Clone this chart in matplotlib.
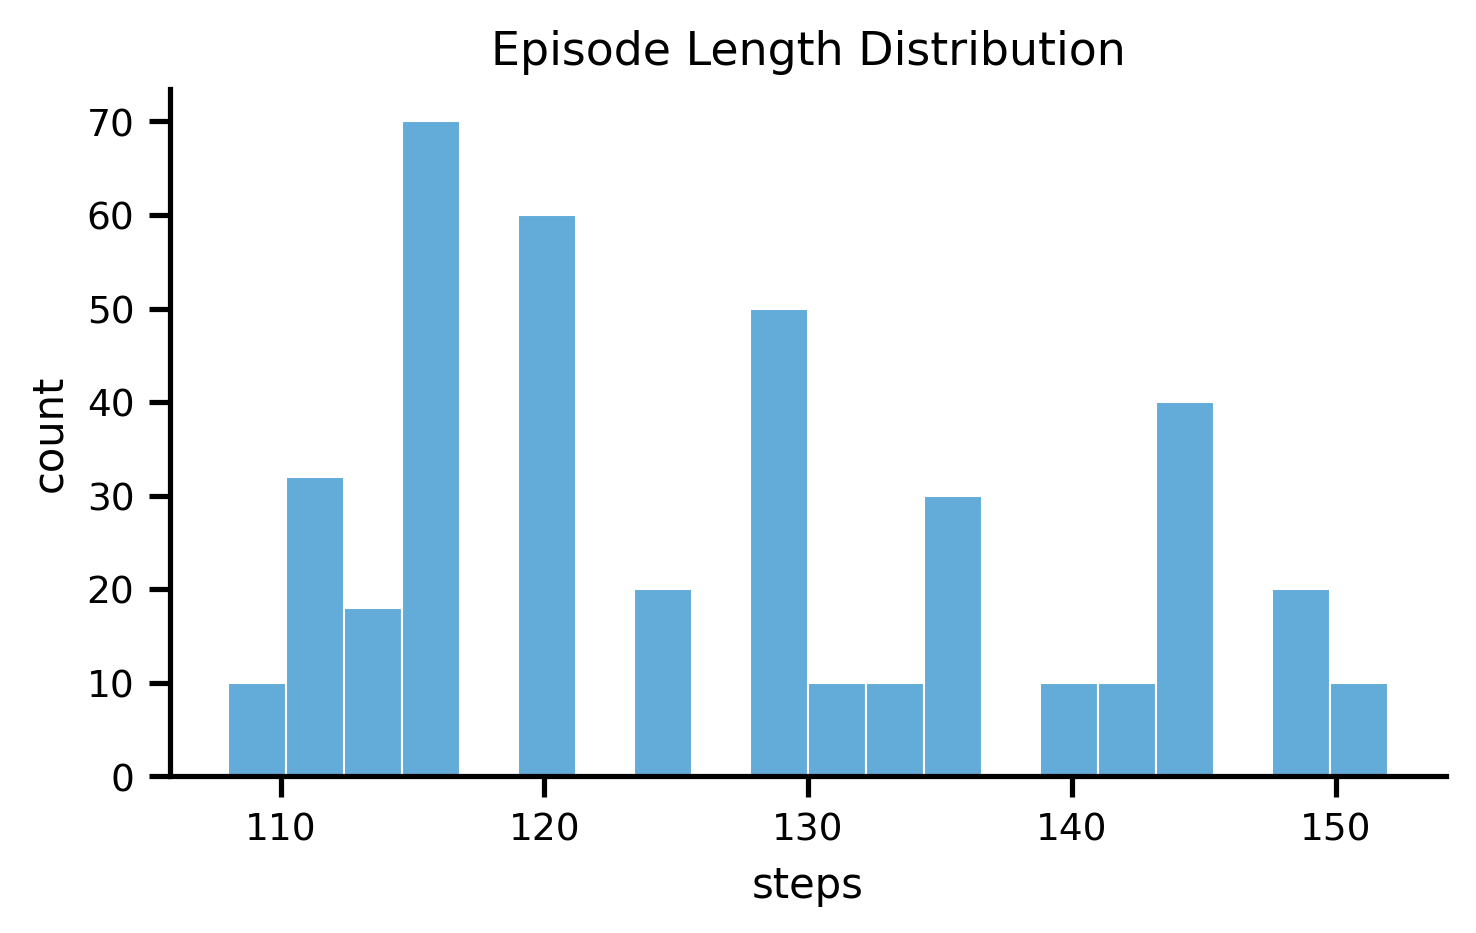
import matplotlib
matplotlib.use("Agg")
import matplotlib.pyplot as plt
import numpy as np
import seaborn as sns

# Histogram bins (20 bins from 108 to 152) and counts
bin_edges = np.linspace(108, 152, 21)
counts = [10, 32, 18, 70, 0, 60, 0, 20, 0, 50, 10, 10, 30, 0, 10, 10, 40, 0, 20, 10]
bar_color = "#63abd8"

sns.set_theme(context="paper", style="ticks")
plt.rcParams["font.family"] = ["DejaVu Sans"]
plt.rcParams["text.color"] = "black"
plt.rcParams["axes.labelcolor"] = "black"
plt.rcParams["xtick.color"] = "black"
plt.rcParams["ytick.color"] = "black"
plt.rcParams["axes.edgecolor"] = "black"

fig, ax = plt.subplots(figsize=(4.92, 3.113))
centers = (bin_edges[:-1] + bin_edges[1:]) / 2
ax.hist(centers, bins=bin_edges, weights=counts, color=bar_color,
        edgecolor="white", linewidth=0.5)

ax.set_title("Episode Length Distribution", fontsize=11)
ax.set_xlabel("steps", fontsize=10)
ax.set_ylabel("count", fontsize=10)
ax.tick_params(labelsize=9, width=1.25, length=5)
for side in ("left", "bottom"):
    ax.spines[side].set_linewidth(1.25)
sns.despine(ax=ax)

fig.subplots_adjust(left=0.115, right=0.98, top=0.904, bottom=0.168)
fig.savefig("out.png", dpi=300)
